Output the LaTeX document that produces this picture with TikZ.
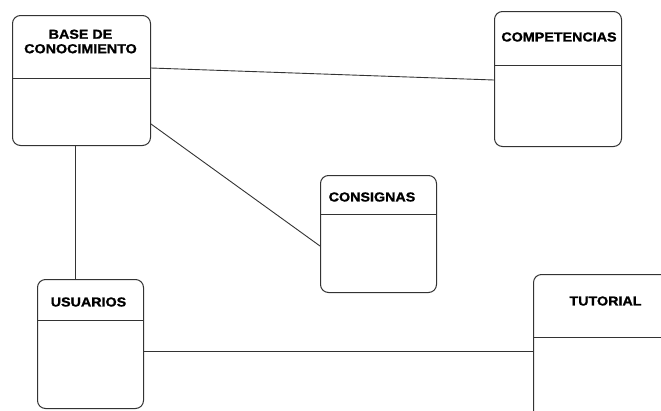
\documentclass[tikz,border=0pt]{standalone}
\usepackage{fontspec}
\newfontfamily\lab[FakeStretch=1.1,FakeBold=1.2]{Liberation Sans Bold}
\begin{document}
\begin{tikzpicture}[x=1pt,y=-1pt,
  ent/.style={draw=black!80,line width=1pt,rounded corners=8pt,anchor=north west,inner sep=0pt},
  lbl/.style={font=\lab\fontsize{13}{16}\selectfont,inner sep=0pt,align=center,text=black},
  conn/.style={draw=black!80,line width=0.9pt}]
\path[fill=white] (0,0) rectangle (661,410);
\useasboundingbox (0,0) rectangle (661,410);
\clip (0,0) rectangle (661,410);
% boxes
\node[ent,minimum width=138pt,minimum height=130pt] (base) at (12,15) {};
\node[ent,minimum width=127pt,minimum height=135pt] (comp) at (494,11) {};
\node[ent,minimum width=116pt,minimum height=117pt] (cons) at (320,175) {};
\node[ent,minimum width=106pt,minimum height=129pt] (usu) at (37,279) {};
\node[ent,minimum width=300pt,minimum height=200pt] (tut) at (533,274) {};
% dividers
\draw[conn] ([yshift=-63pt]base.north west) -- ([yshift=-63pt]base.north east);
\draw[conn] ([yshift=-54pt]comp.north west) -- ([yshift=-54pt]comp.north east);
\draw[conn] ([yshift=-39pt]cons.north west) -- ([yshift=-39pt]cons.north east);
\draw[conn] ([yshift=-41pt]usu.north west) -- ([yshift=-41pt]usu.north east);
\draw[conn] ([yshift=-63pt]tut.north west) -- ([yshift=-63pt]tut.north east);
% labels
\node[lbl] (tbase) at (80.5,41.5) {BASE DE\\[-1.5pt]CONOCIMIENTO};
\node[lbl] (tcomp) at (559,37) {COMPETENCIAS};
\node[lbl] (tcons) at (372,197) {CONSIGNAS};
\node[lbl] (tusu) at (88.5,302) {USUARIOS};
\node[lbl] (ttut) at (605.5,301) {TUTORIAL};
% connectors
\draw[conn] ([yshift=-53pt]base.north east) -- ([yshift=-69pt]comp.north west);
\draw[conn] ([yshift=-109pt]base.north east) -- ([yshift=-71pt]cons.north west);
\draw[conn] ([xshift=63pt]base.south west) -- ([xshift=38pt]usu.north west);
\draw[conn] ([yshift=-72pt]usu.north east) -- ([yshift=-77pt]tut.north west);
\end{tikzpicture}
\end{document}
